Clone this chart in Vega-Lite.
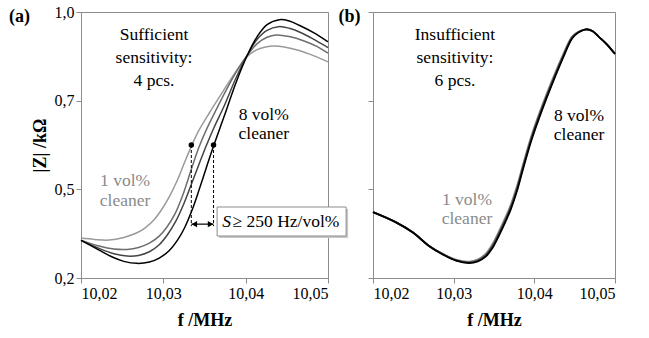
{
  "$schema": "https://vega.github.io/schema/vega-lite/v6.json",
  "padding": {"left": 8, "top": 3, "right": 5, "bottom": 5},
  "background": "white",
  "config": {
    "font": "Liberation Serif",
    "view": {"stroke": "#8c8c8c", "strokeWidth": 1},
    "axis": {"domainColor": "#8c8c8c", "tickColor": "#8c8c8c", "labelFont": "Liberation Serif", "labelFontSize": 16, "labelColor": "#000", "titleFont": "Liberation Serif", "titleFontSize": 18, "titleFontWeight": "bold", "titleColor": "#000", "grid": false, "tickSize": 5, "labelPadding": 2},
    "text": {"font": "Liberation Serif", "fontSize": 17.5}
  },
  "datasets": {
    "left": [
      {"c":"1","f":10.0200,"z":0.320},{"c":"1","f":10.0216,"z":0.316},{"c":"1","f":10.0234,"z":0.314},{"c":"1","f":10.0252,"z":0.322},{"c":"1","f":10.0268,"z":0.336},{"c":"1","f":10.0278,"z":0.351},{"c":"1","f":10.0289,"z":0.376},{"c":"1","f":10.0298,"z":0.406},{"c":"1","f":10.0308,"z":0.448},{"c":"1","f":10.0317,"z":0.494},{"c":"1","f":10.0325,"z":0.543},{"c":"1","f":10.0334,"z":0.596},{"c":"1","f":10.0343,"z":0.643},{"c":"1","f":10.0356,"z":0.697},{"c":"1","f":10.0368,"z":0.744},{"c":"1","f":10.0382,"z":0.798},{"c":"1","f":10.0393,"z":0.838},{"c":"1","f":10.0402,"z":0.866},{"c":"1","f":10.0414,"z":0.887},{"c":"1","f":10.0424,"z":0.895},{"c":"1","f":10.0435,"z":0.898},{"c":"1","f":10.0447,"z":0.895},{"c":"1","f":10.0465,"z":0.884},{"c":"1","f":10.0483,"z":0.868},{"c":"1","f":10.0500,"z":0.850},
      {"c":"2","f":10.0200,"z":0.314},{"c":"2","f":10.0222,"z":0.296},{"c":"2","f":10.0240,"z":0.287},{"c":"2","f":10.0256,"z":0.286},{"c":"2","f":10.0270,"z":0.292},{"c":"2","f":10.0283,"z":0.305},{"c":"2","f":10.0295,"z":0.326},{"c":"2","f":10.0304,"z":0.352},{"c":"2","f":10.0314,"z":0.392},{"c":"2","f":10.0324,"z":0.452},{"c":"2","f":10.0334,"z":0.527},{"c":"2","f":10.0343,"z":0.592},{"c":"2","f":10.0353,"z":0.650},{"c":"2","f":10.0365,"z":0.710},{"c":"2","f":10.0377,"z":0.768},{"c":"2","f":10.0390,"z":0.826},{"c":"2","f":10.0402,"z":0.870},{"c":"2","f":10.0414,"z":0.905},{"c":"2","f":10.0426,"z":0.924},{"c":"2","f":10.0437,"z":0.931},{"c":"2","f":10.0453,"z":0.926},{"c":"2","f":10.0471,"z":0.913},{"c":"2","f":10.0487,"z":0.896},{"c":"2","f":10.0500,"z":0.876},
      {"c":"3","f":10.0200,"z":0.313},{"c":"3","f":10.0222,"z":0.289},{"c":"3","f":10.0240,"z":0.273},{"c":"3","f":10.0256,"z":0.266},{"c":"3","f":10.0270,"z":0.268},{"c":"3","f":10.0283,"z":0.279},{"c":"3","f":10.0295,"z":0.300},{"c":"3","f":10.0305,"z":0.330},{"c":"3","f":10.0315,"z":0.370},{"c":"3","f":10.0324,"z":0.418},{"c":"3","f":10.0333,"z":0.475},{"c":"3","f":10.0343,"z":0.540},{"c":"3","f":10.0352,"z":0.597},{"c":"3","f":10.0362,"z":0.655},{"c":"3","f":10.0374,"z":0.718},{"c":"3","f":10.0388,"z":0.800},{"c":"3","f":10.0402,"z":0.870},{"c":"3","f":10.0414,"z":0.918},{"c":"3","f":10.0426,"z":0.945},{"c":"3","f":10.0440,"z":0.956},{"c":"3","f":10.0453,"z":0.951},{"c":"3","f":10.0468,"z":0.937},{"c":"3","f":10.0484,"z":0.916},{"c":"3","f":10.0500,"z":0.893},
      {"c":"4","f":10.0200,"z":0.313},{"c":"4","f":10.0222,"z":0.284},{"c":"4","f":10.0238,"z":0.263},{"c":"4","f":10.0252,"z":0.250},{"c":"4","f":10.0268,"z":0.244},{"c":"4","f":10.0283,"z":0.248},{"c":"4","f":10.0295,"z":0.260},{"c":"4","f":10.0307,"z":0.282},{"c":"4","f":10.0317,"z":0.313},{"c":"4","f":10.0326,"z":0.352},{"c":"4","f":10.0335,"z":0.405},{"c":"4","f":10.0343,"z":0.462},{"c":"4","f":10.0352,"z":0.530},{"c":"4","f":10.0361,"z":0.597},{"c":"4","f":10.0374,"z":0.687},{"c":"4","f":10.0388,"z":0.786},{"c":"4","f":10.0402,"z":0.870},{"c":"4","f":10.0414,"z":0.926},{"c":"4","f":10.0426,"z":0.962},{"c":"4","f":10.0441,"z":0.977},{"c":"4","f":10.0453,"z":0.973},{"c":"4","f":10.0465,"z":0.960},{"c":"4","f":10.0483,"z":0.937},{"c":"4","f":10.0500,"z":0.910}
    ],
    "right": [
      {"c":"1","f":10.0200,"z":0.398},{"c":"1","f":10.0228,"z":0.368},{"c":"1","f":10.0250,"z":0.336},{"c":"1","f":10.0269,"z":0.298},{"c":"1","f":10.0287,"z":0.272},{"c":"1","f":10.0303,"z":0.255},{"c":"1","f":10.0319,"z":0.249},{"c":"1","f":10.0330,"z":0.256},{"c":"1","f":10.0340,"z":0.274},{"c":"1","f":10.0348,"z":0.302},{"c":"1","f":10.0356,"z":0.340},{"c":"1","f":10.0364,"z":0.382},{"c":"1","f":10.0371,"z":0.422},{"c":"1","f":10.0379,"z":0.481},{"c":"1","f":10.0386,"z":0.542},{"c":"1","f":10.0397,"z":0.633},{"c":"1","f":10.0410,"z":0.721},{"c":"1","f":10.0422,"z":0.795},{"c":"1","f":10.0435,"z":0.869},{"c":"1","f":10.0447,"z":0.927},{"c":"1","f":10.0455,"z":0.941},{"c":"1","f":10.0464,"z":0.948},{"c":"1","f":10.0472,"z":0.943},{"c":"1","f":10.0480,"z":0.925},{"c":"1","f":10.0489,"z":0.905},{"c":"1","f":10.0500,"z":0.874},
      {"c":"2","f":10.0200,"z":0.398},{"c":"2","f":10.0228,"z":0.368},{"c":"2","f":10.0250,"z":0.336},{"c":"2","f":10.0269,"z":0.297},{"c":"2","f":10.0287,"z":0.271},{"c":"2","f":10.0303,"z":0.254},{"c":"2","f":10.0319,"z":0.248},{"c":"2","f":10.0330,"z":0.254},{"c":"2","f":10.0340,"z":0.271},{"c":"2","f":10.0348,"z":0.298},{"c":"2","f":10.0356,"z":0.336},{"c":"2","f":10.0364,"z":0.377},{"c":"2","f":10.0371,"z":0.417},{"c":"2","f":10.0379,"z":0.476},{"c":"2","f":10.0386,"z":0.537},{"c":"2","f":10.0397,"z":0.628},{"c":"2","f":10.0410,"z":0.717},{"c":"2","f":10.0422,"z":0.791},{"c":"2","f":10.0435,"z":0.866},{"c":"2","f":10.0447,"z":0.925},{"c":"2","f":10.0455,"z":0.940},{"c":"2","f":10.0464,"z":0.948},{"c":"2","f":10.0472,"z":0.943},{"c":"2","f":10.0480,"z":0.925},{"c":"2","f":10.0489,"z":0.905},{"c":"2","f":10.0500,"z":0.874},
      {"c":"3","f":10.0200,"z":0.398},{"c":"3","f":10.0228,"z":0.368},{"c":"3","f":10.0250,"z":0.336},{"c":"3","f":10.0269,"z":0.297},{"c":"3","f":10.0287,"z":0.271},{"c":"3","f":10.0303,"z":0.253},{"c":"3","f":10.0319,"z":0.246},{"c":"3","f":10.0330,"z":0.252},{"c":"3","f":10.0340,"z":0.268},{"c":"3","f":10.0348,"z":0.294},{"c":"3","f":10.0356,"z":0.331},{"c":"3","f":10.0364,"z":0.373},{"c":"3","f":10.0371,"z":0.413},{"c":"3","f":10.0379,"z":0.471},{"c":"3","f":10.0386,"z":0.533},{"c":"3","f":10.0397,"z":0.624},{"c":"3","f":10.0410,"z":0.713},{"c":"3","f":10.0422,"z":0.787},{"c":"3","f":10.0435,"z":0.862},{"c":"3","f":10.0447,"z":0.923},{"c":"3","f":10.0455,"z":0.940},{"c":"3","f":10.0464,"z":0.948},{"c":"3","f":10.0472,"z":0.943},{"c":"3","f":10.0480,"z":0.925},{"c":"3","f":10.0489,"z":0.905},{"c":"3","f":10.0500,"z":0.874},
      {"c":"4","f":10.0200,"z":0.398},{"c":"4","f":10.0228,"z":0.368},{"c":"4","f":10.0250,"z":0.336},{"c":"4","f":10.0269,"z":0.297},{"c":"4","f":10.0287,"z":0.270},{"c":"4","f":10.0303,"z":0.252},{"c":"4","f":10.0319,"z":0.245},{"c":"4","f":10.0330,"z":0.250},{"c":"4","f":10.0340,"z":0.265},{"c":"4","f":10.0348,"z":0.290},{"c":"4","f":10.0356,"z":0.327},{"c":"4","f":10.0364,"z":0.368},{"c":"4","f":10.0371,"z":0.408},{"c":"4","f":10.0379,"z":0.466},{"c":"4","f":10.0386,"z":0.528},{"c":"4","f":10.0397,"z":0.619},{"c":"4","f":10.0410,"z":0.708},{"c":"4","f":10.0422,"z":0.783},{"c":"4","f":10.0435,"z":0.859},{"c":"4","f":10.0447,"z":0.921},{"c":"4","f":10.0455,"z":0.939},{"c":"4","f":10.0464,"z":0.948},{"c":"4","f":10.0472,"z":0.943},{"c":"4","f":10.0480,"z":0.925},{"c":"4","f":10.0489,"z":0.905},{"c":"4","f":10.0500,"z":0.874}
    ],
    "dots": [{"f":10.0334,"z":0.600,"zb":0.356},{"f":10.0361,"z":0.600,"zb":0.356}],
    "arrow": [{"f":10.0334,"f2":10.0361,"z":0.362}],
    "box": [{"f":10.03653,"f2":10.0522,"z":0.4135,"z2":0.3263}],
    "boxS": [{"f":10.03716,"z":0.3675,"t":"S"}],
    "boxT": [{"f":10.03841,"z":0.3675,"t":"≥ 250 Hz/vol%"}],
    "leftBlack": [
      {"f":10.02887,"z":0.931,"t":"Sufficient"},{"f":10.02887,"z":0.862,"t":"sensitivity:"},{"f":10.02887,"z":0.793,"t":"4 pcs."},
      {"f":10.0422,"z":0.690,"t":"8 vol%"},{"f":10.0422,"z":0.632,"t":"cleaner"}
    ],
    "leftGray": [{"f":10.02535,"z":0.493,"t":"1 vol%"},{"f":10.02535,"z":0.433,"t":"cleaner"}],
    "leftLabel": [{"f":10.01253,"z":0.985,"t":"(a)"}],
    "rightBlack": [
      {"f":10.03016,"z":0.931,"t":"Insufficient"},{"f":10.03016,"z":0.862,"t":"sensitivity:"},{"f":10.03016,"z":0.793,"t":"6 pcs."},
      {"f":10.04554,"z":0.687,"t":"8 vol%"},{"f":10.04554,"z":0.629,"t":"cleaner"}
    ],
    "rightGray": [{"f":10.03165,"z":0.436,"t":"1 vol%"},{"f":10.03165,"z":0.377,"t":"cleaner"}],
    "rightLabel": [{"f":10.01709,"z":0.985,"t":"(b)"}]
  },
  "hconcat": [
    {
      "width": 247,
      "height": 266,
      "layer": [
        {
          "data": {"name": "left"},
          "mark": {"type": "line", "interpolate": "catmull-rom", "strokeWidth": 1.5},
          "encoding": {
            "x": {"field": "f", "type": "quantitative", "scale": {"domain": [10.02, 10.05], "nice": false, "zero": false}, "axis": {"values": [10.02, 10.03, 10.04, 10.05], "labelExpr": "replace(format(datum.value, '.2f'), '.', ',')", "title": "f /MHz", "titlePadding": 10}},
            "y": {"field": "z", "type": "quantitative", "scale": {"domain": [0.2, 1.0], "nice": false, "zero": false}, "axis": {"values": [0.2, 0.4666667, 0.7333333, 1.0], "labelExpr": "replace(format(datum.value, '.1f'), '.', ',')", "title": "|Z| /kΩ", "titlePadding": 5}},
            "color": {"field": "c", "type": "nominal", "scale": {"domain": ["1","2","3","4"], "range": ["#9a9a9a","#6e6e6e","#444444","#000000"]}, "legend": null}
          }
        },
        {
          "data": {"name": "dots"},
          "mark": {"type": "rule", "strokeDash": [3, 2], "color": "#000", "strokeWidth": 1},
          "encoding": {"x": {"field": "f", "type": "quantitative"}, "y": {"field": "z", "type": "quantitative"}, "y2": {"field": "zb"}}
        },
        {
          "data": {"name": "dots"},
          "mark": {"type": "point", "filled": true, "color": "#000", "size": 30, "opacity": 1},
          "encoding": {"x": {"field": "f", "type": "quantitative"}, "y": {"field": "z", "type": "quantitative"}}
        },
        {
          "data": {"name": "arrow"},
          "mark": {"type": "rule", "color": "#000", "strokeWidth": 1.2},
          "encoding": {"x": {"field": "f", "type": "quantitative"}, "x2": {"field": "f2"}, "y": {"field": "z", "type": "quantitative"}}
        },
        {
          "data": {"name": "arrow"},
          "mark": {"type": "point", "shape": "triangle-left", "filled": true, "color": "#000", "size": 40, "opacity": 1, "xOffset": 3},
          "encoding": {"x": {"field": "f", "type": "quantitative"}, "y": {"field": "z", "type": "quantitative"}}
        },
        {
          "data": {"name": "arrow"},
          "mark": {"type": "point", "shape": "triangle-right", "filled": true, "color": "#000", "size": 40, "opacity": 1, "xOffset": -3},
          "encoding": {"x": {"field": "f2", "type": "quantitative"}, "y": {"field": "z", "type": "quantitative"}}
        },
        {
          "data": {"name": "box"},
          "mark": {"type": "rect", "fill": "#c8c8c8", "xOffset": 2, "x2Offset": 2, "yOffset": 2, "y2Offset": 2, "clip": false},
          "encoding": {"x": {"field": "f", "type": "quantitative"}, "x2": {"field": "f2"}, "y": {"field": "z", "type": "quantitative"}, "y2": {"field": "z2"}}
        },
        {
          "data": {"name": "box"},
          "mark": {"type": "rect", "fill": "white", "stroke": "#8c8c8c", "strokeWidth": 1, "clip": false},
          "encoding": {"x": {"field": "f", "type": "quantitative"}, "x2": {"field": "f2"}, "y": {"field": "z", "type": "quantitative"}, "y2": {"field": "z2"}}
        },
        {
          "data": {"name": "boxS"},
          "mark": {"type": "text", "align": "left", "baseline": "middle", "fontStyle": "italic", "color": "#000"},
          "encoding": {"x": {"field": "f", "type": "quantitative"}, "y": {"field": "z", "type": "quantitative"}, "text": {"field": "t"}}
        },
        {
          "data": {"name": "boxT"},
          "mark": {"type": "text", "align": "left", "baseline": "middle", "color": "#000"},
          "encoding": {"x": {"field": "f", "type": "quantitative"}, "y": {"field": "z", "type": "quantitative"}, "text": {"field": "t"}}
        },
        {
          "data": {"name": "leftBlack"},
          "mark": {"type": "text", "align": "center", "baseline": "middle", "color": "#000"},
          "encoding": {"x": {"field": "f", "type": "quantitative"}, "y": {"field": "z", "type": "quantitative"}, "text": {"field": "t"}}
        },
        {
          "data": {"name": "leftGray"},
          "mark": {"type": "text", "align": "center", "baseline": "middle", "color": "#8a8a8a"},
          "encoding": {"x": {"field": "f", "type": "quantitative"}, "y": {"field": "z", "type": "quantitative"}, "text": {"field": "t"}}
        },
        {
          "data": {"name": "leftLabel"},
          "mark": {"type": "text", "align": "center", "baseline": "middle", "color": "#000", "fontWeight": "bold", "fontSize": 18},
          "encoding": {"x": {"field": "f", "type": "quantitative"}, "y": {"field": "z", "type": "quantitative"}, "text": {"field": "t"}}
        }
      ]
    },
    {
      "width": 242,
      "height": 266,
      "layer": [
        {
          "data": {"name": "right"},
          "mark": {"type": "line", "interpolate": "catmull-rom", "strokeWidth": 1.8},
          "encoding": {
            "x": {"field": "f", "type": "quantitative", "scale": {"domain": [10.02, 10.05], "nice": false, "zero": false}, "axis": {"values": [10.02, 10.03, 10.04, 10.05], "labelExpr": "replace(format(datum.value, '.2f'), '.', ',')", "title": "f /MHz", "titlePadding": 10}},
            "y": {"field": "z", "type": "quantitative", "scale": {"domain": [0.2, 1.0], "nice": false, "zero": false}, "axis": {"values": [0.2, 0.4666667, 0.7333333, 1.0], "labels": false, "title": null}},
            "color": {"field": "c", "type": "nominal", "scale": {"domain": ["1","2","3","4"], "range": ["#9a9a9a","#6e6e6e","#444444","#000000"]}, "legend": null}
          }
        },
        {
          "data": {"name": "rightBlack"},
          "mark": {"type": "text", "align": "center", "baseline": "middle", "color": "#000"},
          "encoding": {"x": {"field": "f", "type": "quantitative"}, "y": {"field": "z", "type": "quantitative"}, "text": {"field": "t"}}
        },
        {
          "data": {"name": "rightGray"},
          "mark": {"type": "text", "align": "center", "baseline": "middle", "color": "#8a8a8a"},
          "encoding": {"x": {"field": "f", "type": "quantitative"}, "y": {"field": "z", "type": "quantitative"}, "text": {"field": "t"}}
        },
        {
          "data": {"name": "rightLabel"},
          "mark": {"type": "text", "align": "center", "baseline": "middle", "color": "#000", "fontWeight": "bold", "fontSize": 18},
          "encoding": {"x": {"field": "f", "type": "quantitative"}, "y": {"field": "z", "type": "quantitative"}, "text": {"field": "t"}}
        }
      ]
    }
  ],
  "spacing": 45,
  "bounds": "flush",
  "resolve": {"scale": {"x": "independent", "y": "independent", "color": "independent"}}
}
